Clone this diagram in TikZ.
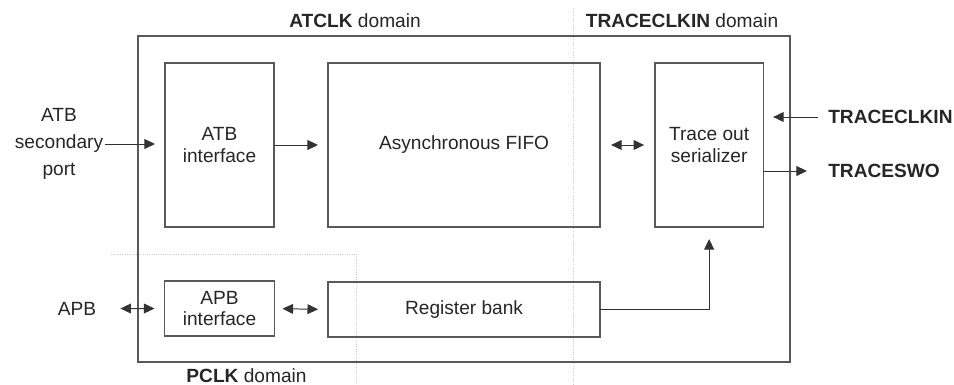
\documentclass[tikz,border=0pt]{standalone}
\usepackage{fontspec}
\setmainfont{Liberation Sans}
\usetikzlibrary{positioning, arrows.meta}

\begin{document}
\begin{tikzpicture}[x=0.025cm, y=-0.025cm,
    font=\fontsize{13.6}{15.6}\selectfont,
    frame/.style={draw=black!65, line width=0.9pt},
    blk/.style={frame, inner sep=0pt, outer sep=0pt, align=center, text=black!85},
    tall/.style={blk, minimum height=4.1cm},
    flat/.style={blk, minimum height=1.375cm},
    sig/.style={-{Triangle[length=7.5pt,width=7pt]}, line width=0.7pt, black!80},
    bisig/.style={{Triangle[length=7.5pt,width=7pt]}-{Triangle[length=7.5pt,width=7pt]}, line width=0.7pt, black!80},
    dom/.style={draw=black!20, densely dotted, line width=0.6pt},
    lbl/.style={inner sep=0pt, align=center, text=black!85}]

    \useasboundingbox (0,0) rectangle (954,385);
    % clock domain borders
    \draw[dom] (573,8) -- (573,385);
    \draw[dom] (111,254) -- (356,254) -- (356,385);
    \draw[frame] (138,36) rectangle (790,362);

    \node[tall, minimum width=2.725cm] (atbif) at (219.5,145) {ATB\\interface};
    \node[tall, minimum width=6.8cm] (fifo) [right=1.35cm of atbif] {Asynchronous FIFO};
    \node[tall, minimum width=2.7cm] (ser) [right=1.375cm of fifo] {Trace out\\serializer};
    \node[flat, minimum width=2.75cm] (apbif) [below=1.35cm of atbif] {APB\\interface};
    \node[flat, minimum width=6.8cm] (regs) [below=1.375cm of fifo] {Register bank};

    \node[lbl, font=\fontsize{13.6}{19}\selectfont] (atbport) at (59,144) {ATB\\secondary\\port};
    \node[lbl] (apb) at (77,308.5) {APB};
    \node[lbl, anchor=west] (clkin) at (828,117) {\textbf{TRACECLKIN}};
    \node[lbl, anchor=west] (swo) at (828,171) {\textbf{TRACESWO}};

    \node[lbl] (atdom) at (355,21) {\textbf{ATCLK} domain};
    \node[lbl] (trdom) at (682,21) {\textbf{TRACECLKIN} domain};
    \node[lbl] (pdom) at (246.5,376) {\textbf{PCLK} domain};

    \draw[sig, shorten <=1pt, shorten >=0.25cm] (atbport.east) -- (atbport.east -| atbif.west);
    \draw[sig, shorten >=0.25cm] (atbif.east) -- (fifo.west);
    \draw[bisig, shorten <=0.275cm, shorten >=0.275cm] (fifo.east) -- (ser.west);
    \draw[bisig, shorten <=0.6cm, shorten >=0.25cm] (apb.east) -- (apbif.west);
    \draw[bisig, shorten <=0.2cm, shorten >=0.25cm] (apbif.east) -- (regs.west);
    \draw[sig, shorten >=0.3cm] (regs.east) -| (ser.south);
    \draw[sig, shorten <=0.25cm, shorten >=0.25cm] (clkin.west) -- (clkin.west -| ser.east);
    \draw[sig, shorten >=0.525cm] (ser.east |- swo.west) -- (swo.west);
\end{tikzpicture}
\end{document}
